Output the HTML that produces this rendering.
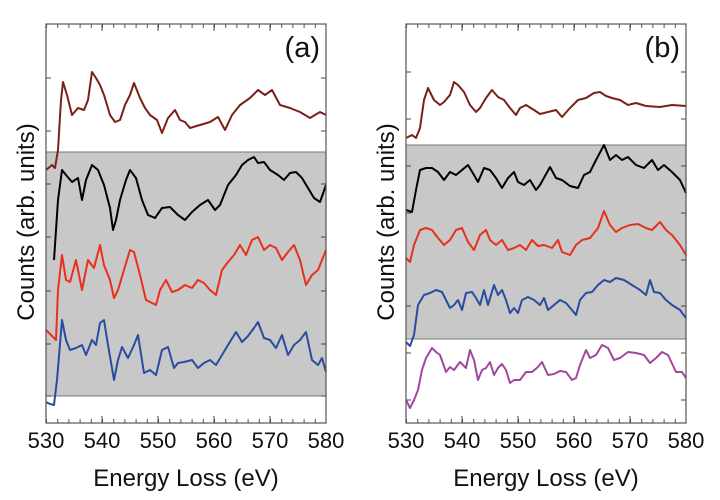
<!DOCTYPE html>
<html><head><meta charset="utf-8"><style>
body{margin:0;background:#fff;width:720px;height:500px;overflow:hidden}
svg{display:block}
text{font-family:"Liberation Sans",sans-serif;fill:#111}
</style></head><body>
<svg width="720" height="500" viewBox="0 0 720 500" xmlns="http://www.w3.org/2000/svg">
<defs>
<pattern id="tk" x="46" y="0" width="11.2" height="10" patternUnits="userSpaceOnUse"><rect x="0" y="0" width="1" height="10" fill="#555"/></pattern>
<pattern id="tk2" x="406" y="0" width="11.2" height="10" patternUnits="userSpaceOnUse"><rect x="0" y="0" width="1" height="10" fill="#555"/></pattern>
</defs>
<!-- Panel a -->
<rect x="46" y="152" width="280" height="244" fill="#c8c8c8"/>
<line x1="46" y1="152" x2="326" y2="152" stroke="#777"/>
<line x1="46" y1="396" x2="326" y2="396" stroke="#777"/>
<rect x="46" y="24" width="280" height="4" fill="url(#tk)"/>
<rect x="46" y="419" width="280" height="4" fill="url(#tk)"/>
<g stroke="#444" stroke-width="1">
<path d="M46 78h5M46 131h5M46 184h5M46 237h5M46 291h5M46 344h5M46 396h5M326 78h-5M326 131h-5M326 184h-5M326 237h-5M326 291h-5M326 344h-5M326 396h-5"/>
<path d="M102 423v-7M158 423v-7M214 423v-7M270 423v-7M102 24v7M158 24v7M214 24v7M270 24v7"/>
</g>
<g fill="none" stroke-width="2" stroke-linejoin="round">
<polyline stroke="#7b2018" points="46,170 52,165 55,168 58,150 61,100 63,82 67,95 72,115 78,108 84,110 88,100 92,72 96,78 100,85 104,95 110,115 115,122 120,120 125,105 130,95 134,83 140,98 145,108 150,115 157,120 162,133 168,118 175,110 180,120 185,122 190,128 200,125 210,122 218,117 225,130 232,115 240,105 250,98 258,90 265,95 272,90 280,105 290,108 300,112 310,118 320,112 326,115"/>
<polyline stroke="#000" points="54,260 58,200 62,170 66,175 72,182 78,178 82,200 86,180 92,165 98,170 104,185 110,208 113,230 116,220 120,200 126,180 130,170 136,178 142,200 148,215 155,218 162,208 170,207 178,215 185,220 192,212 200,205 208,200 215,210 220,205 228,185 236,175 242,165 248,160 254,157 258,163 264,162 270,170 278,175 284,180 290,173 296,172 302,178 308,188 314,198 320,202 326,185"/>
<polyline stroke="#e8301c" points="46,330 52,336 56,340 58,290 62,255 66,280 70,282 76,260 82,290 88,260 94,268 100,245 104,265 110,280 114,298 118,290 124,270 130,250 134,252 140,275 146,300 150,302 156,305 160,290 166,280 172,292 178,290 185,285 192,288 198,280 204,283 210,290 216,295 222,270 228,262 234,255 240,245 246,255 252,240 258,237 264,250 270,245 276,248 282,260 288,252 294,245 300,260 306,285 312,275 318,270 326,250"/>
<polyline stroke="#2a4ca0" points="46,402 50,404 54,405 57,380 62,320 66,340 70,350 76,348 82,345 86,355 92,340 96,345 100,323 104,320 108,345 114,380 118,360 122,347 128,358 134,345 138,335 144,373 150,370 156,375 162,350 168,347 174,368 178,363 184,362 192,360 198,368 204,363 210,360 216,365 222,355 228,345 236,332 242,342 248,336 254,328 258,322 264,338 270,340 276,348 282,335 288,355 294,345 300,340 306,332 312,360 318,365 322,358 326,372"/>
</g>
<rect x="46" y="24" width="280" height="399" fill="none" stroke="#555" stroke-width="1.2"/>
<text x="320" y="57" font-size="29" text-anchor="end">(a)</text>
<!-- Panel b -->
<rect x="406" y="145" width="280" height="194" fill="#c8c8c8"/>
<line x1="406" y1="145" x2="686" y2="145" stroke="#777"/>
<line x1="406" y1="339" x2="686" y2="339" stroke="#777"/>
<rect x="406" y="24" width="280" height="4" fill="url(#tk2)"/>
<rect x="406" y="419" width="280" height="4" fill="url(#tk2)"/>
<g stroke="#444" stroke-width="1">
<path d="M406 72h5M406 119h5M406 166h5M406 213h5M406 260h5M406 306h5M406 353h5M406 400h5M686 72h-5M686 119h-5M686 166h-5M686 213h-5M686 260h-5M686 306h-5M686 353h-5M686 400h-5"/>
<path d="M462 423v-7M518 423v-7M574 423v-7M630 423v-7M462 24v7M518 24v7M574 24v7M630 24v7"/>
</g>
<g fill="none" stroke-width="2" stroke-linejoin="round">
<polyline stroke="#7b2018" points="406,138 412,135 416,138 420,128 424,100 428,88 434,100 440,105 444,102 450,95 454,82 458,85 464,92 470,105 476,112 480,108 486,98 492,90 498,97 504,100 510,108 516,115 520,108 526,105 534,110 540,114 548,112 556,110 562,117 570,108 578,100 586,98 594,93 600,92 606,96 612,98 620,100 628,105 636,103 646,106 660,107 672,105 686,106"/>
<polyline stroke="#000" points="406,210 412,212 416,190 420,170 426,168 432,168 438,172 444,180 450,172 456,175 462,170 468,165 474,175 478,182 484,168 490,170 496,178 502,188 508,178 514,172 518,182 524,185 530,180 536,190 540,185 550,167 556,178 562,180 570,186 578,188 584,175 590,172 596,160 604,145 610,160 616,155 622,160 628,157 636,165 644,168 652,160 658,170 664,165 672,172 680,180 686,193"/>
<polyline stroke="#e8301c" points="406,258 410,262 414,245 420,230 426,228 432,230 438,238 444,245 450,240 456,230 462,228 468,242 474,250 480,235 486,230 490,240 496,245 502,240 508,250 514,248 520,245 526,250 532,240 538,246 544,245 552,248 558,240 562,252 570,255 576,245 582,240 590,238 598,228 604,211 610,225 616,232 622,228 630,225 638,224 646,228 652,230 660,222 666,230 672,235 680,245 686,255"/>
<polyline stroke="#2a4ca0" points="406,342 410,346 414,335 418,305 424,295 430,293 436,290 442,292 446,300 450,308 454,305 458,300 462,310 466,293 472,292 476,298 480,305 484,290 488,305 494,285 498,295 502,290 506,300 510,313 514,308 518,313 522,300 528,297 534,300 540,305 544,298 548,310 554,305 560,300 566,303 572,310 576,315 580,300 586,293 592,292 598,285 604,280 610,282 616,278 624,280 632,285 640,290 646,295 650,280 654,292 660,293 666,300 672,305 680,310 686,318"/>
<polyline stroke="#a0479e" points="406,400 410,408 414,400 418,390 422,370 426,358 432,348 436,352 440,355 446,372 450,367 454,370 460,362 466,368 470,350 474,360 478,380 482,370 486,368 490,362 494,375 498,368 502,364 506,370 510,383 514,380 520,380 526,372 532,372 538,367 542,362 548,375 554,374 560,371 566,372 572,380 576,378 580,365 586,350 590,358 596,355 602,345 608,348 614,360 620,358 628,352 636,353 644,355 650,363 656,358 662,352 668,355 676,372 682,372 686,378"/>
</g>
<rect x="406" y="24" width="280" height="399" fill="none" stroke="#555" stroke-width="1.2"/>
<text x="680" y="57" font-size="29" text-anchor="end">(b)</text>
<!-- tick labels -->
<g font-size="22" text-anchor="middle">
<text x="46" y="448">530</text><text x="102" y="448">540</text><text x="158" y="448">550</text><text x="214" y="448">560</text><text x="270" y="448">570</text><text x="326" y="448">580</text>
<text x="406" y="448">530</text><text x="462" y="448">540</text><text x="518" y="448">550</text><text x="574" y="448">560</text><text x="630" y="448">570</text><text x="686" y="448">580</text>
</g>
<g font-size="24" text-anchor="middle">
<text x="186" y="486">Energy Loss (eV)</text>
<text x="546" y="486">Energy Loss (eV)</text>
<text transform="translate(34,222) rotate(-90)">Counts (arb. units)</text>
<text transform="translate(394,222) rotate(-90)">Counts (arb. units)</text>
</g>
</svg>
</body></html>
